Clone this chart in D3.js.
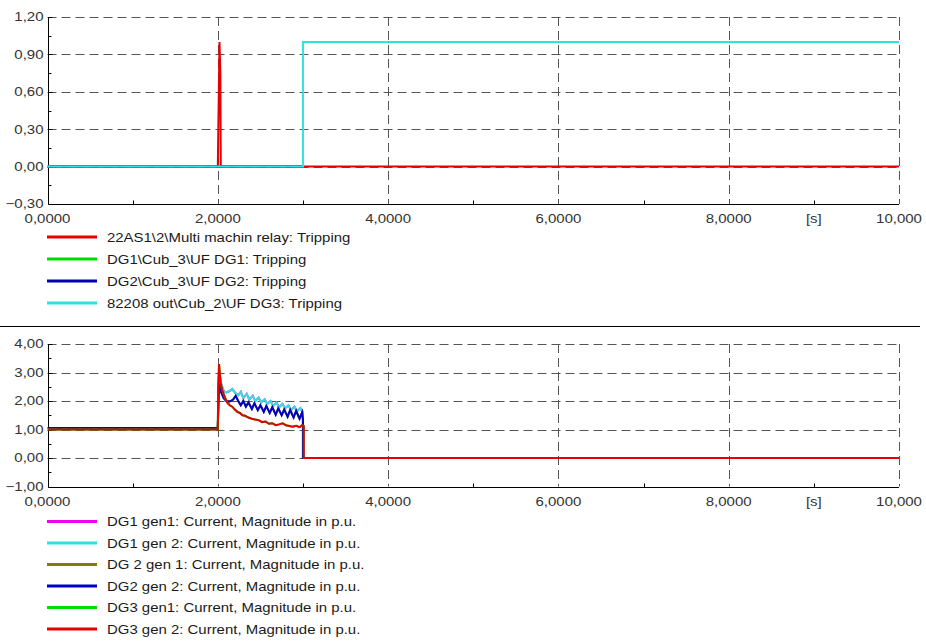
<!DOCTYPE html>
<html>
<head>
<meta charset="utf-8">
<script src="https://cdn.jsdelivr.net/npm/d3@7/dist/d3.min.js"></script>
<style>
  body { margin: 0; background: #fff; }
  svg { display: block; font-family: Arial, "Liberation Sans", sans-serif; }
  .tick-label { font-size: 12.5px; fill: #333; }
  .legend-label { font-size: 13px; fill: #1a1a1a; }
</style>
</head>
<body>
<svg id="chart" width="926" height="644"></svg>
<script>
// x axis (shared)
const xTickValues = [0, 2, 4, 6, 8, 9, 10];
const xTickLabels = ["0,0000", "2,0000", "4,0000", "6,0000", "8,0000", "[s]", "10,000"];
const xGridValues = [2, 4, 6, 8, 10];
const xMinorValues = [1, 3, 5, 7, 9];

// top panel: tripping signals
const tripTicks = [-0.3, 0, 0.3, 0.6, 0.9, 1.2];
const tripMinor = [-0.15, 0.15, 0.45, 0.75, 1.05];
const tripRelay = [[0, 0], [2.0, 0], [2.02, 1.0], [2.03, 0.75], [2.035, 0], [10, 0]];
const tripDG1 = [[0, 0], [3.0, 0]];
const tripDG2 = [[0, 0], [3.0, 0]];
const tripDG3 = [[0, 0], [3.0, 0], [3.0, 1.0], [10, 1.0]];

// bottom panel: current magnitudes
const curTicks = [-1, 0, 1, 2, 3, 4];
const curMinor = [-0.5, 0.5, 1.5, 2.5, 3.5];
const curDG1gen2 = [
  [0, 1.05], [2.0, 1.05], [2.01, 2.4], [2.02, 3.0], [2.04, 2.6], [2.07, 2.35], [2.10, 2.3],
  [2.14, 2.35], [2.17, 2.42], [2.20, 2.3], [2.24, 2.2], [2.27, 2.32], [2.30, 2.1],
  [2.34, 2.25], [2.37, 2.05], [2.41, 2.18], [2.44, 2.0], [2.48, 2.12], [2.51, 1.95],
  [2.55, 2.06], [2.58, 1.9], [2.62, 2.0], [2.65, 1.83], [2.69, 1.95], [2.72, 1.78],
  [2.76, 1.9], [2.79, 1.74], [2.83, 1.85], [2.86, 1.68], [2.90, 1.8], [2.93, 1.64],
  [2.97, 1.75], [3.0, 1.6], [3.0, 0], [10, 0]
];
const curDG2gen2 = [
  [0, 1.05], [2.0, 1.05], [2.01, 2.2], [2.02, 2.75], [2.04, 2.3], [2.07, 2.1], [2.10, 2.0],
  [2.14, 1.98], [2.18, 2.05], [2.21, 2.18], [2.24, 2.0], [2.27, 1.85], [2.30, 2.0],
  [2.33, 1.8], [2.36, 1.95], [2.40, 1.72], [2.43, 1.92], [2.47, 1.68], [2.50, 1.85],
  [2.54, 1.62], [2.57, 1.82], [2.61, 1.58], [2.64, 1.78], [2.68, 1.52], [2.71, 1.74],
  [2.75, 1.5], [2.78, 1.7], [2.82, 1.45], [2.85, 1.68], [2.89, 1.42], [2.92, 1.65],
  [2.96, 1.38], [2.99, 1.6], [3.0, 1.35], [3.0, 0], [10, 0]
];
const curDG3gen2 = [
  [0, 1.0], [2.0, 1.0], [2.005, 2.5], [2.015, 3.3], [2.03, 2.7], [2.05, 2.4], [2.08, 2.15],
  [2.11, 1.95], [2.14, 1.85], [2.17, 1.8], [2.20, 1.7], [2.23, 1.62], [2.26, 1.58],
  [2.29, 1.5], [2.32, 1.48], [2.36, 1.42], [2.40, 1.38], [2.44, 1.35], [2.48, 1.33],
  [2.52, 1.26], [2.56, 1.28], [2.60, 1.2], [2.64, 1.22], [2.68, 1.15], [2.72, 1.18],
  [2.76, 1.22], [2.80, 1.15], [2.84, 1.12], [2.88, 1.1], [2.92, 1.13], [2.96, 1.08],
  [2.99, 1.15], [3.01, 1.12], [3.01, 0], [10, 0]
];
// gen1 curves sit underneath gen2 curves
const curDG1gen1 = curDG1gen2;
const curDG2gen1 = curDG2gen2;
const curDG3gen1 = curDG3gen2;

const tripNames = [
  "22AS1\\2\\Multi machin relay: Tripping",
  "DG1\\Cub_3\\UF DG1: Tripping",
  "DG2\\Cub_3\\UF DG2: Tripping",
  "82208 out\\Cub_2\\UF DG3: Tripping"
];
const curNames = [
  "DG1 gen1: Current, Magnitude in p.u.",
  "DG1 gen 2: Current, Magnitude in p.u.",
  "DG 2 gen 1: Current, Magnitude in p.u.",
  "DG2 gen 2: Current, Magnitude in p.u.",
  "DG3 gen1: Current, Magnitude in p.u.",
  "DG3 gen 2: Current, Magnitude in p.u."
];

const svg = d3.select("#chart");
const fmtY = d => d3.format(".2f")(d).replace(".", ",");
const stretch = 1.2; // the original text is a bit wide

function drawPanel(opts) {
  const { top, bottom, yDomain, yTicks, yMinor, series, legendTop, legendStep } = opts;
  const x = d3.scaleLinear().domain([0, 10]).range([47.5, 899]);
  const y = d3.scaleLinear().domain(yDomain).range([bottom, top]);
  const g = svg.append("g");

  // dashed grid
  const grid = g.append("g")
    .attr("stroke", "#555")
    .attr("stroke-width", 1)
    .attr("stroke-dasharray", "9,5");
  grid.selectAll("line.h")
    .data(yTicks.filter(d => d !== yDomain[0]))
    .join("line")
    .attr("x1", x(0)).attr("x2", x(10))
    .attr("y1", d => Math.round(y(d)) + 0.5).attr("y2", d => Math.round(y(d)) + 0.5);
  grid.selectAll("line.v")
    .data(xGridValues)
    .join("line")
    .attr("class", "v")
    .attr("x1", d => Math.round(x(d)) + 0.5).attr("x2", d => Math.round(x(d)) + 0.5)
    .attr("y1", y(yDomain[1])).attr("y2", y(yDomain[0]));

  // axes lines
  const ax = g.append("g").attr("stroke", "#000").attr("stroke-width", 1);
  const xb = Math.round(y(yDomain[0])) + 0.5;
  const xl = Math.round(x(0)) + 0.5;
  ax.append("line").attr("x1", xl).attr("x2", x(10)).attr("y1", xb).attr("y2", xb);
  ax.append("line").attr("x1", xl).attr("x2", xl).attr("y1", xb).attr("y2", y(yDomain[1]));
  ax.selectAll("line.ym").data(yMinor).join("line")
    .attr("class", "ym")
    .attr("x1", xl).attr("x2", xl + 3)
    .attr("y1", d => Math.round(y(d)) + 0.5).attr("y2", d => Math.round(y(d)) + 0.5);
  ax.selectAll("line.ymaj").data(yTicks).join("line")
    .attr("class", "ymaj")
    .attr("x1", xl).attr("x2", xl + 4)
    .attr("y1", d => Math.round(y(d)) + 0.5).attr("y2", d => Math.round(y(d)) + 0.5);
  ax.selectAll("line.xm").data(xMinorValues).join("line")
    .attr("class", "xm")
    .attr("x1", d => Math.round(x(d)) + 0.5).attr("x2", d => Math.round(x(d)) + 0.5)
    .attr("y1", xb).attr("y2", xb - 4);

  // tick labels
  g.selectAll("text.yl").data(yTicks).join("text")
    .attr("class", "tick-label")
    .attr("transform", d => `translate(${x(0) - 4},${y(d)}) scale(${stretch},1)`)
    .attr("dy", "0.35em")
    .attr("text-anchor", "end")
    .text(fmtY);
  g.selectAll("text.xl").data(xTickValues).join("text")
    .attr("class", "tick-label")
    .attr("transform", d => `translate(${x(d)},${xb + 18}) scale(${stretch},1)`)
    .attr("text-anchor", "middle")
    .text((d, i) => xTickLabels[i]);

  // curves
  const line = d3.line().x(d => x(d[0])).y(d => y(d[1]));
  const clip = "clip" + top;
  g.append("clipPath").attr("id", clip).append("rect")
    .attr("x", x(0)).attr("y", y(yDomain[1]) - 2)
    .attr("width", x(10) - x(0) + 2).attr("height", y(yDomain[0]) - y(yDomain[1]) + 2);
  g.append("g").attr("clip-path", `url(#${clip})`)
    .selectAll("path").data(series).join("path")
    .attr("d", s => line(s.data))
    .attr("fill", "none")
    .attr("stroke", s => s.color)
    .attr("stroke-width", 2);

  // legend
  const leg = g.selectAll("g.leg").data(series).join("g")
    .attr("class", "leg")
    .attr("transform", (s, i) => `translate(0,${legendTop + i * legendStep})`);
  leg.append("line")
    .attr("x1", 47).attr("x2", 97)
    .attr("stroke", s => s.color)
    .attr("stroke-width", 3);
  leg.append("text")
    .attr("class", "legend-label")
    .attr("transform", "translate(107,0) scale(1.15,1)")
    .attr("dy", "0.35em")
    .text(s => s.name);
}

drawPanel({
  top: 17, bottom: 204,
  yDomain: [-0.3, 1.2], yTicks: tripTicks, yMinor: tripMinor,
  legendTop: 237, legendStep: 22,
  series: [
    { name: tripNames[0], color: "#e60000", data: tripRelay },
    { name: tripNames[1], color: "#00dd00", data: tripDG1 },
    { name: tripNames[2], color: "#0000b4", data: tripDG2 },
    { name: tripNames[3], color: "#33e0e0", data: tripDG3 }
  ]
});

svg.append("line")
  .attr("x1", 0).attr("x2", 920)
  .attr("y1", 326.5).attr("y2", 326.5)
  .attr("stroke", "#000");

drawPanel({
  top: 344, bottom: 486.5,
  yDomain: [-1, 4], yTicks: curTicks, yMinor: curMinor,
  legendTop: 521.5, legendStep: 21.5,
  series: [
    { name: curNames[0], color: "#f000f0", data: curDG1gen1 },
    { name: curNames[1], color: "#33e0e0", data: curDG1gen2 },
    { name: curNames[2], color: "#808000", data: curDG2gen1 },
    { name: curNames[3], color: "#0000c8", data: curDG2gen2 },
    { name: curNames[4], color: "#00dd00", data: curDG3gen1 },
    { name: curNames[5], color: "#e60000", data: curDG3gen2 }
  ]
});
</script>
</body>
</html>
